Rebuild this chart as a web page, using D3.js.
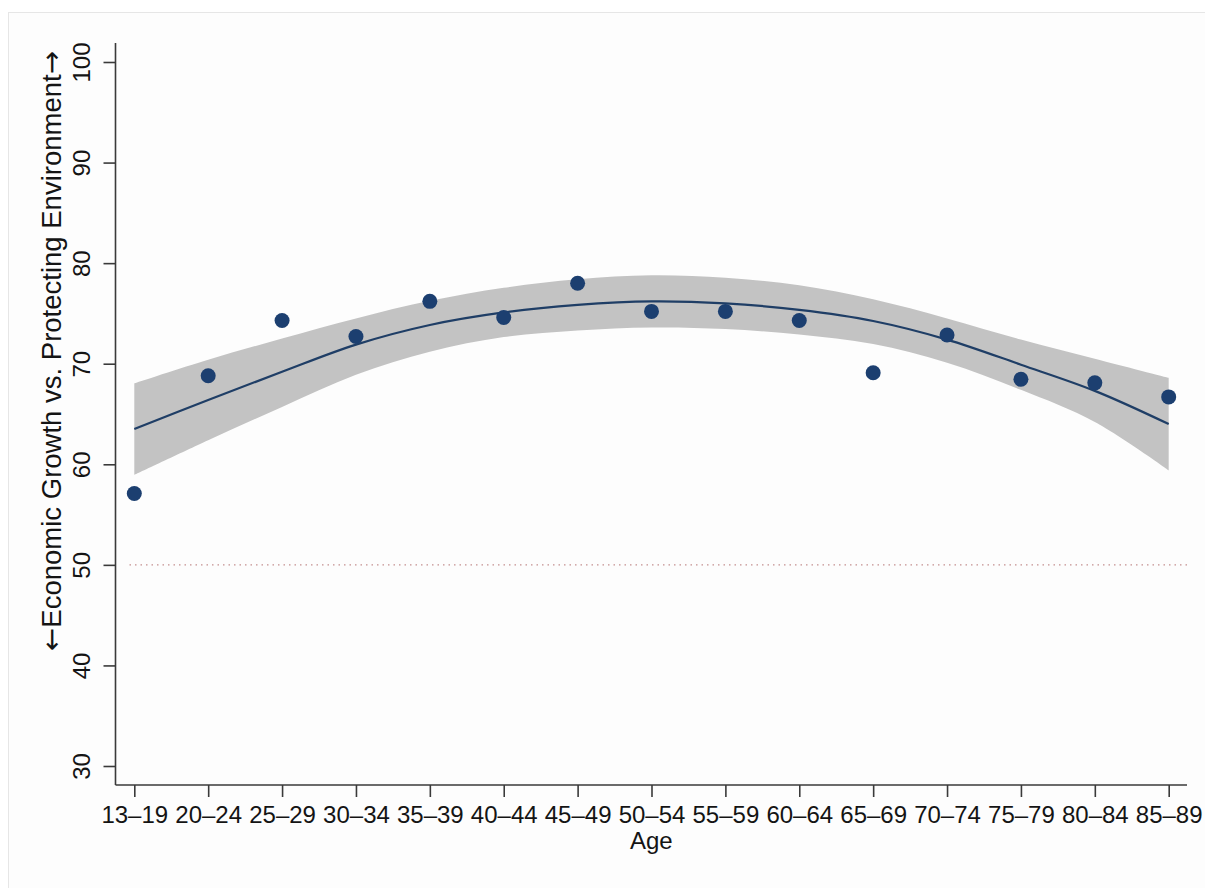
<!DOCTYPE html>
<html>
<head>
<meta charset="utf-8">
<script src="https://cdn.jsdelivr.net/npm/d3@7"></script>
<style>
  html, body { margin: 0; padding: 0; background: #ffffff; }
  svg { display: block; }
  text { font-family: "Liberation Sans", Arial, Helvetica, sans-serif; fill: #141414; }
</style>
</head>
<body>
<svg id="chart" width="1205" height="888"></svg>
<script>
// ---- data ----
const categories = ["13–19","20–24","25–29","30–34","35–39","40–44","45–49","50–54","55–59","60–64","65–69","70–74","75–79","80–84","85–89"];
const meanValues = [57.1, 68.8, 74.3, 72.7, 76.2, 74.6, 78.0, 75.2, 75.2, 74.3, 69.1, 72.85, 68.45, 68.1, 66.7];
const fitValues  = [63.5, 66.4, 69.2, 71.9, 73.85, 75.1, 75.85, 76.2, 76.0, 75.35, 74.25, 72.4, 69.9, 67.3, 64.0];
const ciUpper    = [68.05, 70.4, 72.5, 74.5, 76.25, 77.55, 78.4, 78.8, 78.55, 77.8, 76.4, 74.5, 72.4, 70.5, 68.6];
const ciLower    = [58.95, 62.4, 65.7, 68.9, 71.2, 72.65, 73.3, 73.6, 73.45, 72.9, 71.95, 70.1, 67.4, 64.2, 59.4];
const yTicks = [30, 40, 50, 60, 70, 80, 90, 100];
const referenceLine = 50;
const yTitleParts = ["←", "Economic Growth vs. Protecting Environment", "→"];
const xTitle = "Age";

// ---- layout ----
const svg = d3.select("#chart");
const axisLeft = 115.5, axisRight = 1187, axisTop = 43, axisBottom = 785;
const fontStack = '"Liberation Sans", Arial, Helvetica, sans-serif';

svg.append("rect")
  .attr("x", 8.5).attr("y", 12.5).attr("width", 1205).attr("height", 885)
  .attr("fill", "#fdfdfd").attr("stroke", "#e6e6e6");

const x = d3.scalePoint().domain(categories).range([134.3, 1168.7]);
const y = d3.scaleLinear().domain([30, 100]).range([766, 62]);

const rows = categories.map((c, i) => ({
  c, mean: meanValues[i], fit: fitValues[i], lo: ciLower[i], hi: ciUpper[i]
}));

const curve = d3.curveCatmullRom.alpha(0.5);

// CI band
const area = d3.area()
  .x(d => x(d.c)).y0(d => y(d.lo)).y1(d => y(d.hi))
  .curve(curve);
svg.append("path").datum(rows)
  .attr("d", area).attr("fill", "#c3c3c3");

// reference line at 50
svg.append("line")
  .attr("x1", axisLeft + 14).attr("x2", axisRight)
  .attr("y1", y(referenceLine)).attr("y2", y(referenceLine))
  .attr("stroke", "#c48f8f").attr("stroke-width", 1.3)
  .attr("stroke-dasharray", "1.5,4");

// fitted line
const line = d3.line().x(d => x(d.c)).y(d => y(d.fit)).curve(curve);
svg.append("path").datum(rows)
  .attr("d", line).attr("fill", "none")
  .attr("stroke", "#1f3e66").attr("stroke-width", 2.2);

// points
svg.append("g").selectAll("circle").data(rows).join("circle")
  .attr("cx", d => x(d.c)).attr("cy", d => y(d.mean)).attr("r", 7.5)
  .attr("fill", "#1c3f70");

// axes
const axisColor = "#3a3a3a";
const yAxis = svg.append("g").attr("transform", `translate(${axisLeft},0)`)
  .call(d3.axisLeft(y).tickValues(yTicks).tickSize(12).tickFormat(d3.format("d")));
yAxis.select(".domain").attr("d", `M0,${axisTop}V${axisBottom}`)
  .attr("stroke", axisColor).attr("stroke-width", 1.6);
yAxis.selectAll(".tick line").attr("stroke", axisColor).attr("stroke-width", 1.6);
yAxis.selectAll(".tick text")
  .attr("x", null).attr("dy", null)
  .attr("transform", "translate(-26,0) rotate(-90)")
  .attr("text-anchor", "middle")
  .attr("font-size", 24).attr("fill", "#141414")
  .style("font-family", fontStack);

const xAxis = svg.append("g").attr("transform", `translate(0,${axisBottom})`)
  .call(d3.axisBottom(x).tickSize(12));
xAxis.select(".domain").attr("d", `M${axisLeft},0H${axisRight}`)
  .attr("stroke", axisColor).attr("stroke-width", 1.6);
xAxis.selectAll(".tick line").attr("stroke", axisColor).attr("stroke-width", 1.6);
xAxis.selectAll(".tick text")
  .attr("y", 38).attr("dy", null)
  .attr("font-size", 24).attr("fill", "#141414")
  .style("font-family", fontStack);

// titles
const yt = svg.append("text")
  .attr("transform", "translate(61,351) rotate(-90)")
  .attr("text-anchor", "middle").attr("font-size", 27.5);
yt.append("tspan").style("font-family", '"DejaVu Sans", sans-serif').text(yTitleParts[0]);
yt.append("tspan").text(yTitleParts[1]);
yt.append("tspan").style("font-family", '"DejaVu Sans", sans-serif').text(yTitleParts[2]);

svg.append("text")
  .attr("x", (axisLeft + axisRight) / 2).attr("y", 849)
  .attr("text-anchor", "middle").attr("font-size", 24)
  .text(xTitle);
</script>
</body>
</html>
